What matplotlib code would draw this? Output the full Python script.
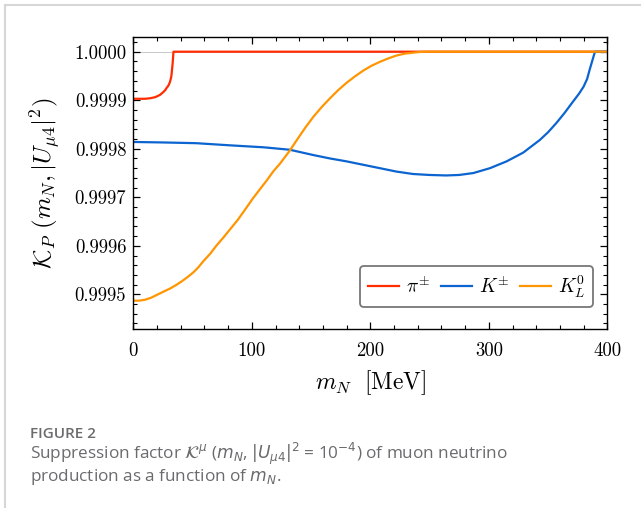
import matplotlib
matplotlib.use("Agg")
import matplotlib.pyplot as plt
from matplotlib.ticker import MultipleLocator, FormatStrFormatter
from matplotlib.lines import Line2D

plt.rcParams['mathtext.fontset'] = 'cm'
plt.rcParams['font.family'] = 'serif'
plt.rcParams['font.serif'] = ['cmr10', 'DejaVu Serif']
plt.rcParams['axes.unicode_minus'] = False

# ---- data ----
m_pi = [0, 5, 10, 14, 18, 20, 22.5, 25, 27, 28, 29, 30, 31, 32, 32.4, 33.2, 33.9, 400]
k_pi = [0.999903, 0.999903, 0.999903, 0.999904, 0.999906, 0.999908, 0.999911,
        0.999916, 0.999921, 0.999925, 0.999928, 0.999932, 0.999938, 0.999948,
        0.999956, 0.999976, 1.0, 1.0]

m_k = [0, 25, 53, 82, 110, 132, 152, 166, 180, 194, 208, 222, 236, 250, 264,
       275, 287, 301, 315, 329, 343, 350, 357, 364, 371, 376, 380, 383, 385,
       388, 389.6, 400]
k_k = [0.999814, 0.999813, 0.9998115, 0.999807, 0.999803, 0.999798, 0.999787,
       0.999780, 0.999774, 0.999767, 0.999760, 0.999753, 0.999748, 0.999746,
       0.999745, 0.999746, 0.999750, 0.999760, 0.999774, 0.999792, 0.999818,
       0.999834, 0.999853, 0.999874, 0.999897, 0.999913, 0.999928, 0.999944,
       0.999962, 0.999987, 1.0, 1.0]

m_kl = [0, 5, 10, 15, 20, 25, 31, 36, 41, 46, 51, 55, 59, 65, 70, 76, 82, 88,
        93, 97, 101, 107, 113, 118, 124, 128, 132, 138, 145, 152, 159, 166,
        173, 180, 187, 194, 201, 208, 215, 222, 229, 236, 242, 247.5, 400]
k_kl = [0.999487, 0.999487, 0.999489, 0.999493, 0.999499, 0.999505, 0.999512,
        0.999519, 0.999527, 0.999536, 0.999546, 0.999556, 0.999568, 0.999584,
        0.999600, 0.999617, 0.999635, 0.999653, 0.999670, 0.999684, 0.999698,
        0.999717, 0.999736, 0.999753, 0.999770, 0.999783, 0.999796, 0.999818,
        0.999843, 0.999866, 0.999886, 0.999904, 0.999921, 0.999936, 0.999949,
        0.999961, 0.999971, 0.999979, 0.999986, 0.999992, 0.999996, 0.999998,
        0.9999995, 1.0, 1.0]

labels = [r'$\pi^{\pm}$', r'$K^{\pm}$', r'$K_L^0$']
colors = ['#FF2C00', '#0B64D0', '#FF9500']

fig = plt.figure(figsize=(6.41, 5.08), dpi=100)
ax = fig.add_axes([133.3/641, 1-329.3/508, (607.3-133.3)/641, (329.3-36.7)/508])

ax.axhline(1.0, color='#c8c8c8', lw=0.7, zorder=0)
ax.plot(m_pi, k_pi, color=colors[0], lw=1.6, label=labels[0])
ax.plot(m_k, k_k, color=colors[1], lw=1.6, label=labels[1])
ax.plot(m_kl, k_kl, color=colors[2], lw=1.6, label=labels[2])

ax.set_xlim(0, 400)
ax.set_ylim(0.999428, 1.0000309)
ax.xaxis.set_major_locator(MultipleLocator(100))
ax.xaxis.set_minor_locator(MultipleLocator(20))
ax.yaxis.set_major_locator(MultipleLocator(0.0001))
ax.yaxis.set_minor_locator(MultipleLocator(0.00002))
ax.yaxis.set_major_formatter(FormatStrFormatter('%.4f'))
ax.tick_params(which='both', direction='in', top=True, right=True, labelsize=13.5)
ax.tick_params(which='major', length=5, width=0.9)
ax.tick_params(which='minor', length=3, width=0.8)
ax.tick_params(axis='x', pad=9)
ax.tick_params(axis='y', pad=5)
for s in ax.spines.values():
    s.set_linewidth(1.0)

ax.set_xlabel(r'$m_N\ \ [\mathrm{MeV}]$', fontsize=17, labelpad=6)
ax.set_ylabel(r'$\mathcal{K}_P\ (m_N, |U_{\mu 4}|^2)$', fontsize=18, labelpad=8)

leg = ax.legend(loc='lower right', ncol=3, fontsize=14, frameon=True, fancybox=True,
                edgecolor='#777777', framealpha=1, bbox_to_anchor=(0.982, 0.055),
                handlelength=1.6, columnspacing=0.55, handletextpad=0.35, borderpad=0.4,
                borderaxespad=0.3)
leg.get_frame().set_linewidth(1.3)

# figure border (panel frame)
fig.add_artist(Line2D([4.7/641, 4.7/641], [0, 1-4.7/508], transform=fig.transFigure,
                      color='#d6d6d6', lw=1.5))
fig.add_artist(Line2D([4.7/641, 1], [1-4.7/508, 1-4.7/508], transform=fig.transFigure,
                      color='#d6d6d6', lw=1.5))

cap_color = '#6a6b6d'
fig.text(30/641, 1-438/508, 'FIGURE 2', fontsize=11, color=cap_color,
         family='Open Sans', fontweight='semibold', va='baseline')
fig.text(30/641, 1-459/508,
         r'Suppression factor $\mathcal{K}^{\mu}$ ($m_N$, $|U_{\mu 4}|^2$ = 10$^{-4}$) of muon neutrino',
         fontsize=12.3, color=cap_color, family='Open Sans', va='baseline',
         math_fontfamily='dejavusans')
fig.text(30/641, 1-481/508, r'production as a function of $m_N$.',
         fontsize=12.3, color=cap_color, family='Open Sans', va='baseline',
         math_fontfamily='dejavusans')

fig.savefig('out.png', dpi=100)
